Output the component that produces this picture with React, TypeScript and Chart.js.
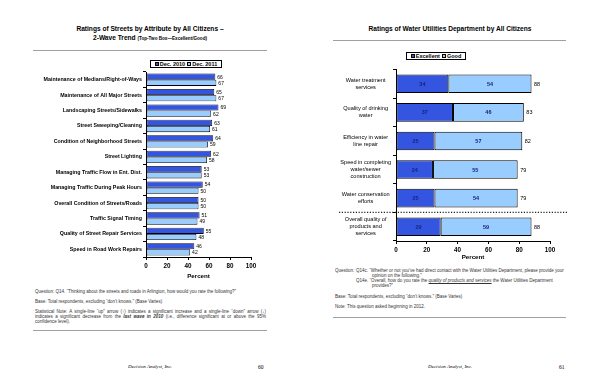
import React, { useEffect, useRef } from "react";
import { Chart, registerables } from "chart.js";

Chart.register(...registerables);

// ---------- DATA ----------
const streetCategories = [
  "Maintenance of Medians/Right-of-Ways",
  "Maintenance of All Major Streets",
  "Landscaping Streets/Sidewalks",
  "Street Sweeping/Cleaning",
  "Condition of Neighborhood Streets",
  "Street Lighting",
  "Managing Traffic Flow in Ent. Dist.",
  "Managing Traffic During Peak Hours",
  "Overall Condition of Streets/Roads",
  "Traffic Signal Timing",
  "Quality of Street Repair Services",
  "Speed in Road Work Repairs",
];
const streetSeriesNames = ["Dec. 2010", "Dec. 2011"];
const streets2010 = [66, 65, 69, 63, 64, 62, 53, 54, 50, 51, 55, 46];
const streets2011 = [67, 67, 62, 61, 59, 58, 53, 50, 50, 49, 48, 42];

const waterCategories = [
  ["Water treatment", "services"],
  ["Quality of drinking", "water"],
  ["Efficiency in water", "line repair"],
  ["Speed in completing", "water/sewer", "construction"],
  ["Water conservation", "efforts"],
  ["Overall quality of", "products and", "services"],
];
const waterSeriesNames = ["Excellent", "Good"];
const waterExcellent = [34, 37, 25, 24, 25, 29];
const waterGood = [54, 46, 57, 55, 54, 59];
const waterTotals = [88, 83, 82, 79, 79, 88];

const percentMin = 0;
const percentMax = 100;
const percentStep = 20;
const axisTitle = "Percent";

// ---------- STYLE ----------
const DARK = "#3355e0";
const LIGHT = "#99ccff";
const SANS = "'Liberation Sans', Arial, sans-serif";
const SERIF = "'Liberation Serif', 'Times New Roman', serif";

const valueLabelPlugin = {
  id: "valueLabels",
  afterDatasetsDraw(chart: any, _args: any, opts: any) {
    if (!opts || !opts.mode) return;
    const ctx = chart.ctx;
    ctx.save();
    ctx.textBaseline = "middle";
    if (opts.mode === "end") {
      ctx.font = opts.font;
      ctx.fillStyle = opts.color;
      ctx.textAlign = "left";
      chart.data.datasets.forEach((ds: any, di: number) => {
        const meta = chart.getDatasetMeta(di);
        meta.data.forEach((el: any, i: number) => {
          ctx.fillText(String(ds.data[i]), el.x + opts.offset, el.y + 0.5);
        });
      });
    } else if (opts.mode === "stack") {
      ctx.font = opts.font;
      ctx.fillStyle = opts.color;
      ctx.textAlign = "center";
      chart.data.datasets.forEach((ds: any, di: number) => {
        const meta = chart.getDatasetMeta(di);
        meta.data.forEach((el: any, i: number) => {
          ctx.fillText(String(ds.data[i]), (el.x + el.base) / 2, el.y + 0.5);
        });
      });
      ctx.font = opts.totalFont;
      ctx.fillStyle = opts.totalColor;
      ctx.textAlign = "left";
      const last = chart.getDatasetMeta(chart.data.datasets.length - 1);
      last.data.forEach((el: any, i: number) => {
        ctx.fillText(String(opts.totals[i]), el.x + opts.offset, el.y + 0.5);
      });
    }
    ctx.restore();
  },
};

const separatorPlugin = {
  id: "separator",
  afterDraw(chart: any, _args: any, opts: any) {
    if (!opts || opts.afterIndex == null) return;
    const y = chart.scales.y;
    const py = (y.getPixelForValue(opts.afterIndex) + y.getPixelForValue(opts.afterIndex + 1)) / 2;
    const ctx = chart.ctx;
    ctx.save();
    ctx.strokeStyle = opts.color;
    ctx.lineWidth = 1.3;
    ctx.setLineDash([1.2, 1.6]);
    ctx.beginPath();
    ctx.moveTo(opts.x1, py);
    ctx.lineTo(opts.x2, py);
    ctx.stroke();
    ctx.restore();
  },
};

function StreetsChart() {
  const ref = useRef<HTMLCanvasElement | null>(null);
  useEffect(() => {
    if (!ref.current) return;
    const chart = new Chart(ref.current, {
      type: "bar",
      data: {
        labels: streetCategories,
        datasets: [
          {
            label: streetSeriesNames[0],
            data: streets2010,
            backgroundColor: DARK,
            borderColor: "#000",
            borderWidth: 0.8,
            borderSkipped: false,
            categoryPercentage: 0.8,
            barPercentage: 1,
          },
          {
            label: streetSeriesNames[1],
            data: streets2011,
            backgroundColor: LIGHT,
            borderColor: "#000",
            borderWidth: 0.8,
            borderSkipped: false,
            categoryPercentage: 0.8,
            barPercentage: 1,
          },
        ],
      },
      options: {
        indexAxis: "y",
        animation: false,
        responsive: false,
        maintainAspectRatio: false,
        events: [],
        layout: { padding: { top: 6, right: 49, left: 0, bottom: 0 } },
        plugins: {
          legend: { display: false },
          tooltip: { enabled: false },
          valueLabels: { mode: "end", font: `5px ${SANS}`, color: "#000", offset: 2 },
        } as any,
        scales: {
          x: {
            min: percentMin,
            max: percentMax,
            ticks: { stepSize: percentStep, padding: 2, color: "#000", font: { family: SANS, size: 6.3, weight: "bold" } },
            grid: { display: true, drawOnChartArea: false, drawTicks: true, tickLength: 3, color: "#000" },
            border: { display: true, color: "#000", width: 1 },
            title: { display: true, text: axisTitle, color: "#000", font: { family: SANS, size: 6.2, weight: "bold" }, padding: 0 },
            afterFit: (s: any) => { s.height = 23; },
          },
          y: {
            ticks: { padding: 1, color: "#000", font: { family: SANS, size: 5.3, weight: "bold" }, autoSkip: false },
            grid: { display: true, drawOnChartArea: false, drawTicks: true, tickLength: 3, color: "#000" },
            border: { display: true, color: "#000", width: 1 },
            afterFit: (s: any) => { s.width = 146; },
          },
        },
      } as any,
      plugins: [valueLabelPlugin],
    });
    return () => chart.destroy();
  }, []);
  return (
    <canvas
      ref={ref}
      width={300}
      height={214}
      style={{ position: "absolute", left: 0, top: 66, width: 300, height: 214 }}
    />
  );
}

function WaterChart() {
  const ref = useRef<HTMLCanvasElement | null>(null);
  useEffect(() => {
    if (!ref.current) return;
    const chart = new Chart(ref.current, {
      type: "bar",
      data: {
        labels: waterCategories as any,
        datasets: [
          {
            label: waterSeriesNames[0],
            data: waterExcellent,
            backgroundColor: DARK,
            borderColor: "#000",
            borderWidth: 1,
            borderSkipped: false,
            categoryPercentage: 1,
            barPercentage: 0.65,
          },
          {
            label: waterSeriesNames[1],
            data: waterGood,
            backgroundColor: LIGHT,
            borderColor: "#000",
            borderWidth: 1,
            borderSkipped: false,
            categoryPercentage: 1,
            barPercentage: 0.65,
          },
        ],
      },
      options: {
        indexAxis: "y",
        animation: false,
        responsive: false,
        maintainAspectRatio: false,
        events: [],
        layout: { padding: { top: 6, right: 50, left: 0, bottom: 0 } },
        plugins: {
          legend: { display: false },
          tooltip: { enabled: false },
          valueLabels: {
            mode: "stack",
            font: `bold 5.5px ${SANS}`,
            color: "#1a237e",
            totalFont: `5.5px ${SANS}`,
            totalColor: "#000",
            totals: waterTotals,
            offset: 2.5,
          },
          separator: { afterIndex: 4, x1: 39, x2: 267, color: "#222" },
        } as any,
        scales: {
          x: {
            stacked: true,
            min: percentMin,
            max: percentMax,
            ticks: { stepSize: percentStep, padding: 2, color: "#000", font: { family: SANS, size: 6.3, weight: "bold" } },
            grid: { display: true, drawOnChartArea: false, drawTicks: true, tickLength: 3, color: "#000" },
            border: { display: true, color: "#000", width: 1 },
            title: { display: true, text: axisTitle, color: "#000", font: { family: SANS, size: 6.2, weight: "bold" }, padding: 0 },
            afterFit: (s: any) => { s.height = 20; },
          },
          y: {
            stacked: true,
            ticks: { padding: 2, color: "#000", crossAlign: "center", font: { family: SANS, size: 5.6, lineHeight: 1.25 }, autoSkip: false },
            grid: { display: true, drawOnChartArea: false, drawTicks: true, tickLength: 3, color: "#000" },
            border: { display: true, color: "#000", width: 1 },
            afterFit: (s: any) => { s.width = 96; },
          },
        },
      } as any,
      plugins: [valueLabelPlugin, separatorPlugin],
    });
    return () => chart.destroy();
  }, []);
  return (
    <canvas
      ref={ref}
      width={300}
      height={204}
      style={{ position: "absolute", left: 300, top: 57, width: 300, height: 204 }}
    />
  );
}

function Legend({ names, left, top, width }: { names: string[]; left: number; top: number; width: number }) {
  const colors = [DARK, LIGHT];
  return (
    <div
      style={{
        position: "absolute",
        left,
        top,
        width,
        height: 8,
        boxSizing: "border-box",
        border: "1px solid #000",
        display: "flex",
        alignItems: "center",
        justifyContent: "center",
        gap: 2,
        fontFamily: SANS,
        fontWeight: "bold",
        fontSize: 5.5,
        lineHeight: "6px",
        color: "#000",
        background: "#fff",
      }}
    >
      {names.map((n, i) => (
        <span key={n} style={{ display: "flex", alignItems: "center" }}>
          <span
            style={{
              display: "inline-block",
              width: 4,
              height: 4,
              boxSizing: "border-box",
              background: colors[i],
              border: "0.8px solid #000",
              marginRight: 1,
            }}
          />
          {n}
        </span>
      ))}
    </div>
  );
}

const rule = (left: number, top: number, width: number) => (
  <div style={{ position: "absolute", left, top, width, height: 0, borderTop: "1px solid #a0a0a0" }} />
);

const note: React.CSSProperties = {
  position: "absolute",
  fontFamily: SANS,
  fontSize: 4.5,
  lineHeight: "5px",
  color: "#333",
};

export default function App() {
  useEffect(() => {
    document.body.style.margin = "0";
  }, []);
  return (
    <div style={{ position: "fixed", left: 0, top: 0, width: 600, height: 388, background: "#fff", overflow: "hidden" }}>
      {/* LEFT PAGE */}
      <div
        style={{
          position: "absolute",
          left: 0,
          top: 25,
          width: 300,
          textAlign: "center",
          fontFamily: SANS,
          fontWeight: "bold",
          fontSize: 6.6,
          lineHeight: "8.5px",
          color: "#000",
        }}
      >
        <div>Ratings of Streets by Attribute by All Citizens –</div>
        <div>
          2-Wave Trend <span style={{ fontSize: 4.6 }}>(Top-Two Box—Excellent/Good)</span>
        </div>
      </div>
      {rule(33, 50, 234)}
      <Legend names={streetSeriesNames} left={150} top={60} width={72} />
      <StreetsChart />
      <div style={{ ...note, left: 35, top: 289, width: 232 }}>
        Question: Q14. “Thinking about the streets and roads in Arlington, how would you rate the following?”
      </div>
      <div style={{ ...note, left: 35, top: 299, width: 232 }}>
        Base: Total respondents, excluding “don’t knows.” (Base Varies)
      </div>
      <div style={{ ...note, left: 35, top: 309, width: 231 }}>
        <div style={{ textAlign: "justify", textAlignLast: "justify" as any }}>
          Statistical Note: A single-line “up” arrow (↑) indicates a significant increase and a single-line “down” arrow (↓)
        </div>
        <div style={{ textAlign: "justify", textAlignLast: "justify" as any }}>
          indicates a significant decrease from the <b><i>last wave in 2010</i></b> (i.e., difference significant at or above the 95%
        </div>
        <div>confidence level).</div>
      </div>
      {rule(33, 330, 234)}
      <div
        style={{
          position: "absolute",
          left: 0,
          top: 364,
          width: 300,
          textAlign: "center",
          fontFamily: SERIF,
          fontStyle: "italic",
          fontSize: 5,
          lineHeight: "6px",
        }}
      >
        Decision Analyst, Inc.
      </div>
      <div style={{ position: "absolute", left: 258, top: 364, fontFamily: SERIF, fontSize: 5.5, lineHeight: "6px" }}>60</div>

      {/* RIGHT PAGE */}
      <div
        style={{
          position: "absolute",
          left: 300,
          top: 25,
          width: 300,
          textAlign: "center",
          fontFamily: SANS,
          fontWeight: "bold",
          fontSize: 6.6,
          lineHeight: "8.5px",
          color: "#000",
        }}
      >
        Ratings of Water Utilities Department by All Citizens
      </div>
      {rule(333, 40, 233)}
      <Legend names={waterSeriesNames} left={406} top={52} width={60} />
      <WaterChart />
      <div style={{ ...note, left: 335, top: 268 }}>Question:</div>
      <div style={{ ...note, left: 356, top: 268, width: 212 }}>
        <div style={{ paddingLeft: 16, textIndent: -16 }}>
          Q14c. “Whether or not you’ve had direct contact with the Water Utilities Department, please provide your
          opinion on the following.”
        </div>
        <div style={{ paddingLeft: 16, textIndent: -16, width: 196 }}>
          Q14e. “Overall, how do you rate the{" "}
          <span style={{ fontStyle: "italic", textDecoration: "underline" }}>quality of products and services</span> the
          Water Utilities Department provides?”
        </div>
      </div>
      <div style={{ ...note, left: 335, top: 294, width: 230 }}>
        Base: Total respondents, excluding “don’t knows.” (Base Varies)
      </div>
      <div style={{ ...note, left: 335, top: 304, width: 230 }}>Note: This question asked beginning in 2012.</div>
      {rule(333, 317, 233)}
      <div
        style={{
          position: "absolute",
          left: 300,
          top: 364,
          width: 300,
          textAlign: "center",
          fontFamily: SERIF,
          fontStyle: "italic",
          fontSize: 5,
          lineHeight: "6px",
        }}
      >
        Decision Analyst, Inc.
      </div>
      <div style={{ position: "absolute", left: 559, top: 364, fontFamily: SERIF, fontSize: 5.5, lineHeight: "6px" }}>61</div>
    </div>
  );
}
